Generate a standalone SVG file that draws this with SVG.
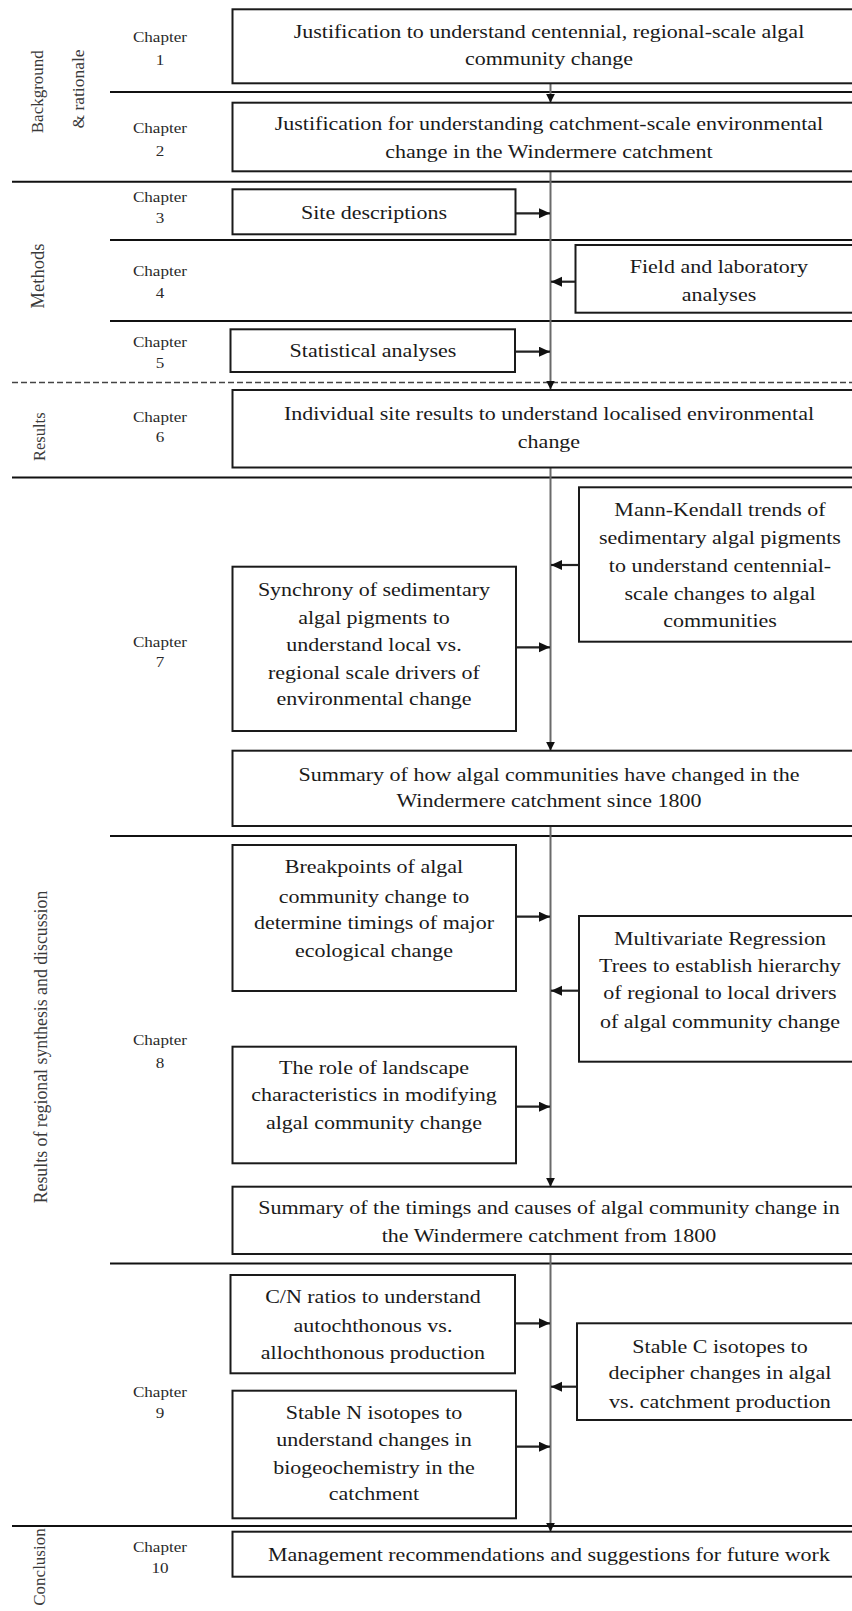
<svg xmlns="http://www.w3.org/2000/svg" width="852" height="1611" viewBox="0 0 852 1611">
<style>
.box{fill:#fff;stroke:#1a1a1a;stroke-width:2}
.t{font-family:"Liberation Serif","Times New Roman",serif;font-size:19.3px;fill:#1a1a1a;text-anchor:middle;transform-box:fill-box;transform-origin:center;transform:scaleX(1.14)}
.ch{font-family:"Liberation Serif","Times New Roman",serif;font-size:15px;fill:#2a2a2a;text-anchor:middle;transform-box:fill-box;transform-origin:center;transform:scaleX(1.14)}
.sec{font-family:"Liberation Serif","Times New Roman",serif;font-size:17.5px;fill:#3a3a3a;text-anchor:middle}
.sep{stroke:#111;stroke-width:2;fill:none}
.dash{stroke:#444;stroke-width:1.5;stroke-dasharray:6 3;fill:none}
.vline{stroke:#6a6a6a;stroke-width:2;fill:none}
.harrow{stroke:#222;stroke-width:2.2;fill:none}
</style>
<defs>
<marker id="ah" markerUnits="userSpaceOnUse" markerWidth="12" markerHeight="11" refX="11" refY="5" orient="auto"><path d="M0,0 L11,5 L0,10 Z" fill="#111"/></marker>
<marker id="av" markerUnits="userSpaceOnUse" markerWidth="10" markerHeight="10" refX="9" refY="4.5" orient="auto"><path d="M0,0 L9,4.5 L0,9 Z" fill="#111"/></marker>
</defs>
<rect x="0" y="0" width="852" height="1611" fill="#fff"/>

<g id="section-lines">
<path class="sep" d="M110,92 H852"/>
<path class="sep" d="M12,181.7 H852"/>
<path class="sep" d="M110,240 H852"/>
<path class="sep" d="M110,321 H852"/>
<path class="dash" d="M12,382.5 H852"/>
<path class="sep" d="M12,477.5 H852"/>
<path class="sep" d="M110,836 H852"/>
<path class="sep" d="M110,1263.5 H852"/>
<path class="sep" d="M12,1526 H852"/>
</g>

<g id="section-labels">
<text class="sec" style="font-size:17px" transform="rotate(-90 43.5 91.7)" x="43.5" y="91.7">Background</text>
<text class="sec" transform="rotate(-90 83.5 89)" x="83.5" y="89">&amp; rationale</text>
<text class="sec" style="font-size:18.5px" transform="rotate(-90 43.5 276)" x="43.5" y="276">Methods</text>
<text class="sec" style="font-size:16.5px" transform="rotate(-90 45 436.7)" x="45" y="436.7">Results</text>
<text class="sec" style="font-size:17.8px" transform="rotate(-90 47 1047)" x="47" y="1047">Results of regional synthesis and discussion</text>
<text class="sec" style="font-size:17px" transform="rotate(-90 45 1567)" x="45" y="1567">Conclusion</text>
</g>

<g id="chapter-labels">
<text class="ch" x="160" y="42">Chapter</text><text class="ch" x="160" y="65">1</text>
<text class="ch" x="160" y="133">Chapter</text><text class="ch" x="160" y="156">2</text>
<text class="ch" x="160" y="202">Chapter</text><text class="ch" x="160" y="223.3">3</text>
<text class="ch" x="160" y="276">Chapter</text><text class="ch" x="160" y="298">4</text>
<text class="ch" x="160" y="347">Chapter</text><text class="ch" x="160" y="368.5">5</text>
<text class="ch" x="160" y="422">Chapter</text><text class="ch" x="160" y="442.5">6</text>
<text class="ch" x="160" y="647.3">Chapter</text><text class="ch" x="160" y="666.7">7</text>
<text class="ch" x="160" y="1045">Chapter</text><text class="ch" x="160" y="1068">8</text>
<text class="ch" x="160" y="1396.7">Chapter</text><text class="ch" x="160" y="1418.3">9</text>
<text class="ch" x="160" y="1551.7">Chapter</text><text class="ch" x="160" y="1573.3">10</text>
</g>

<g id="connectors">
<path class="vline" d="M550.5,83.3 V102.7" marker-end="url(#av)"/>
<path class="vline" d="M550.5,171.3 V389.5" marker-end="url(#av)"/>
<path class="vline" d="M550.5,467.5 V750.7" marker-end="url(#av)"/>
<path class="vline" d="M550.5,826 V1186.7" marker-end="url(#av)"/>
<path class="vline" d="M550.5,1254 V1531.7" marker-end="url(#av)"/>
<path class="harrow" d="M515.5,213.3 H550" marker-end="url(#ah)"/>
<path class="harrow" d="M515,351.7 H550" marker-end="url(#ah)"/>
<path class="harrow" d="M516,647.3 H550" marker-end="url(#ah)"/>
<path class="harrow" d="M516,916.7 H550" marker-end="url(#ah)"/>
<path class="harrow" d="M516,1106.7 H550" marker-end="url(#ah)"/>
<path class="harrow" d="M515,1323.3 H550" marker-end="url(#ah)"/>
<path class="harrow" d="M516,1446.7 H550" marker-end="url(#ah)"/>
<path class="harrow" d="M575.5,281.7 H551" marker-end="url(#ah)"/>
<path class="harrow" d="M579,565 H551" marker-end="url(#ah)"/>
<path class="harrow" d="M579,990.7 H551" marker-end="url(#ah)"/>
<path class="harrow" d="M577,1386.7 H551" marker-end="url(#ah)"/>
</g>

<g id="ch1">
<rect class="box" x="232.5" y="9.3" width="630" height="74"/>
<text class="t" x="549" y="37.7">Justification to understand centennial, regional-scale algal</text>
<text class="t" x="549" y="65.3">community change</text>
</g>
<g id="ch2">
<rect class="box" x="232.5" y="102.7" width="630" height="68.6"/>
<text class="t" x="549" y="130">Justification for understanding catchment-scale environmental</text>
<text class="t" x="549" y="157.7">change in the Windermere catchment</text>
</g>
<g id="ch3-site">
<rect class="box" x="232.5" y="189.3" width="283" height="45"/>
<text class="t" x="374" y="218.7">Site descriptions</text>
</g>
<g id="ch4-field">
<rect class="box" x="575.5" y="245" width="287" height="67.7"/>
<text class="t" x="719" y="272.7">Field and laboratory</text>
<text class="t" x="719" y="301">analyses</text>
</g>
<g id="ch5-stats">
<rect class="box" x="230.5" y="329.3" width="284.5" height="42.7"/>
<text class="t" x="373" y="357">Statistical analyses</text>
</g>
<g id="ch6">
<rect class="box" x="232.5" y="390" width="630" height="77.5"/>
<text class="t" x="549" y="420">Individual site results to understand localised environmental</text>
<text class="t" x="549" y="447.7">change</text>
</g>
<g id="ch7-mk">
<rect class="box" x="579" y="487.3" width="283" height="154.4"/>
<text class="t" x="720" y="516">Mann-Kendall trends of</text>
<text class="t" x="720" y="544.3">sedimentary algal pigments</text>
<text class="t" x="720" y="572">to understand centennial-</text>
<text class="t" x="720" y="600">scale changes to algal</text>
<text class="t" x="720" y="626.7">communities</text>
</g>
<g id="ch7-synchrony">
<rect class="box" x="232.5" y="566.7" width="283.5" height="164.3"/>
<text class="t" x="374" y="596">Synchrony of sedimentary</text>
<text class="t" x="374" y="624.3">algal pigments to</text>
<text class="t" x="374" y="651">understand local vs.</text>
<text class="t" x="374" y="679.3">regional scale drivers of</text>
<text class="t" x="374" y="705.3">environmental change</text>
</g>
<g id="ch7-summary">
<rect class="box" x="232.5" y="750.7" width="630" height="75.3"/>
<text class="t" x="549" y="781">Summary of how algal communities have changed in the</text>
<text class="t" x="549" y="806.7">Windermere catchment since 1800</text>
</g>
<g id="ch8-breakpoints">
<rect class="box" x="232.5" y="845" width="283.5" height="146"/>
<text class="t" x="374" y="873.3">Breakpoints of algal</text>
<text class="t" x="374" y="902.7">community change to</text>
<text class="t" x="374" y="929.3">determine timings of major</text>
<text class="t" x="374" y="956.7">ecological change</text>
</g>
<g id="ch8-mrt">
<rect class="box" x="579" y="916" width="283" height="145.7"/>
<text class="t" x="720" y="945.3">Multivariate Regression</text>
<text class="t" x="720" y="972">Trees to establish hierarchy</text>
<text class="t" x="720" y="999.3">of regional to local drivers</text>
<text class="t" x="720" y="1027.7">of algal community change</text>
</g>
<g id="ch8-landscape">
<rect class="box" x="232.5" y="1046.7" width="283.5" height="116.6"/>
<text class="t" x="374" y="1074.3">The role of landscape</text>
<text class="t" x="374" y="1101">characteristics in modifying</text>
<text class="t" x="374" y="1128.7">algal community change</text>
</g>
<g id="ch8-summary">
<rect class="box" x="232.5" y="1186.7" width="630" height="67.3"/>
<text class="t" x="549" y="1214.3">Summary of the timings and causes of algal community change in</text>
<text class="t" x="549" y="1242">the Windermere catchment from 1800</text>
</g>
<g id="ch9-cn">
<rect class="box" x="230.5" y="1275" width="284.5" height="98.3"/>
<text class="t" x="373" y="1303.3">C/N ratios to understand</text>
<text class="t" x="373" y="1332">autochthonous vs.</text>
<text class="t" x="373" y="1358.7">allochthonous production</text>
</g>
<g id="ch9-stable-c">
<rect class="box" x="577" y="1323.3" width="285" height="96.7"/>
<text class="t" x="720" y="1352.7">Stable C isotopes to</text>
<text class="t" x="720" y="1379.3">decipher changes in algal</text>
<text class="t" x="720" y="1407.7">vs. catchment production</text>
</g>
<g id="ch9-stable-n">
<rect class="box" x="232.5" y="1390.7" width="283.5" height="127.6"/>
<text class="t" x="374" y="1418.7">Stable N isotopes to</text>
<text class="t" x="374" y="1446">understand changes in</text>
<text class="t" x="374" y="1474.3">biogeochemistry in the</text>
<text class="t" x="374" y="1500">catchment</text>
</g>
<g id="ch10">
<rect class="box" x="232.5" y="1531.7" width="630" height="45"/>
<text class="t" x="549" y="1561">Management recommendations and suggestions for future work</text>
</g>
</svg>
